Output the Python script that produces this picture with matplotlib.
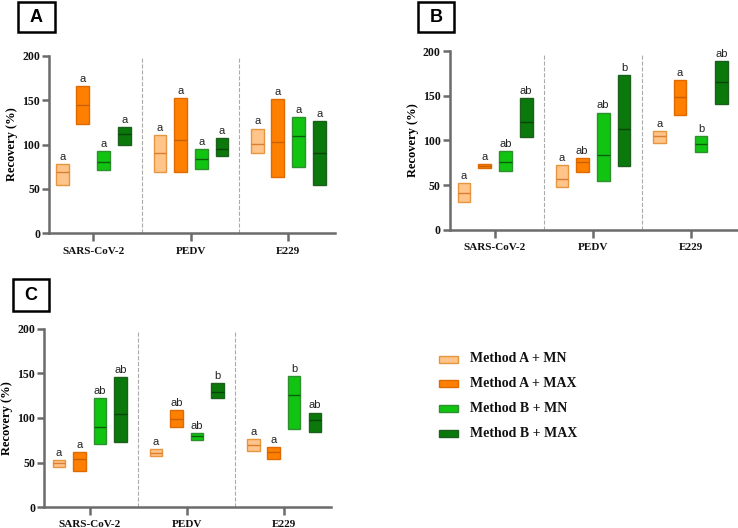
"""
Recovery (%) of SARS-CoV-2, PEDV and E229 for the four method combinations (panels A-C).
Floating bars show the min-max range, the inner line the median.
"""

import matplotlib
matplotlib.use("Agg")
import matplotlib.pyplot as plt
from matplotlib.patches import Rectangle
import numpy as np

viruses = ["SARS-CoV-2", "PEDV", "E229"]
methods = ["Method A + MN", "Method A + MAX", "Method B + MN", "Method B + MAX"]

# per panel: [virus][method] -> (low, median, high)
panel_a = [
    [(54, 69, 78), (123, 145, 166), (71, 80, 93), (100, 112, 120)],
    [(69, 90, 111), (69, 105, 152), (73, 84, 95), (87, 95, 107)],
    [(90, 101, 118), (63, 103, 151), (75, 110, 131), (55, 90, 126)],
]
panel_b = [
    [(31, 41, 52), (69, 71, 73), (66, 76, 88), (104, 121, 147)],
    [(48, 57, 72), (65, 76, 80), (54, 84, 131), (71, 113, 173)],
    [(97, 105, 110), (128, 149, 167), (87, 96, 105), (141, 165, 189)],
]
panel_c = [
    [(45, 50, 53), (41, 54, 62), (71, 90, 122), (73, 104, 146)],
    [(57, 61, 65), (90, 99, 109), (75, 80, 83), (122, 129, 139)],
    [(63, 70, 76), (54, 62, 67), (88, 126, 147), (84, 98, 106)],
]

letters_a = [["a", "a", "a", "a"], ["a", "a", "a", "a"], ["a", "a", "a", "a"]]
letters_b = [["a", "a", "ab", "ab"], ["a", "ab", "ab", "b"], ["a", "a", "b", "ab"]]
letters_c = [["a", "a", "ab", "ab"], ["a", "ab", "ab", "b"], ["a", "a", "b", "ab"]]

FILL = ["#ffc48a", "#ff8000", "#11c411", "#0a780a"]
EDGE = ["#e8953f", "#e06a00", "#2f8f2f", "#1d5f1d"]
MED = ["#d98030", "#c86000", "#0b5f0b", "#064506"]
OFFS = [-0.315, -0.107, 0.107, 0.32]
BW = 0.13
AXCOL = "#6b6b6b"

SERIF = "Liberation Serif"
SANS = "Liberation Sans"

fig = plt.figure(figsize=(7.38, 5.28), dpi=100)


def panel(rect, data, letters, xlim, tag, tagbox):
    ax = fig.add_axes(rect)
    x = np.arange(len(viruses))
    for m in range(len(methods)):
        lo = np.array([data[v][m][0] for v in range(len(viruses))])
        md = np.array([data[v][m][1] for v in range(len(viruses))])
        hi = np.array([data[v][m][2] for v in range(len(viruses))])
        xs = x + OFFS[m]
        ax.bar(xs, hi - lo, bottom=lo, width=BW, color=FILL[m], edgecolor=EDGE[m],
               linewidth=1.0, zorder=3)
        ax.hlines(md, xs - BW / 2, xs + BW / 2, color=MED[m], linewidth=1.0, zorder=4)
        for v in range(len(viruses)):
            ax.text(xs[v], hi[v] + 2.5, letters[v][m], ha="center", va="bottom",
                    fontsize=8, family=SANS, color="#222222")
    for sep in (0.5, 1.5):
        ax.axvline(sep, ymin=0, ymax=0.985, color="#aaaaaa", linestyle="--",
                   linewidth=0.8, zorder=1)
    ax.set_xlim(*xlim)
    ax.set_ylim(0, 200)
    ax.set_yticks([0, 50, 100, 150, 200])
    ax.set_xticks(x)
    ax.set_xticklabels(viruses)
    for lab in ax.get_xticklabels() + ax.get_yticklabels():
        lab.set_family(SERIF)
        lab.set_fontweight("bold")
        lab.set_color("#111111")
    ax.tick_params(axis="y", labelsize=8.5, length=5, width=1.8, color=AXCOL, pad=1.5)
    ax.tick_params(axis="x", labelsize=8, length=6, width=1.8, color=AXCOL, pad=3.5)
    for s in ("top", "right"):
        ax.spines[s].set_visible(False)
    for s in ("left", "bottom"):
        ax.spines[s].set_color(AXCOL)
        ax.spines[s].set_linewidth(1.8)
    ax.set_ylabel("Recovery (%)", family=SERIF, fontweight="bold", fontsize=9, labelpad=3)

    # boxed panel tag
    x0, y0, w, h = tagbox
    fig.add_artist(Rectangle((x0 / 738, 1 - (y0 + h) / 528), w / 738, h / 528,
                             transform=fig.transFigure, fill=False,
                             edgecolor="black", linewidth=1.8))
    fig.text((x0 + w / 2) / 738, 1 - (y0 + h / 2) / 528, tag, ha="center", va="center",
             fontsize=13, fontweight="bold", family=SANS)
    return ax


panel([0.0668, 0.558, 0.387, 0.3365], panel_a, letters_a, (-0.451, 2.479),
      "A", (18, 2, 37, 30))
panel([0.6093, 0.565, 0.390, 0.3384], panel_b, letters_b, (-0.462, 2.48),
      "B", (418, 2, 36, 30))
panel([0.060, 0.0392, 0.389, 0.3383], panel_c, letters_c, (-0.467, 2.49),
      "C", (13, 279, 36, 32))

# legend
for i, lab in enumerate(methods):
    yc = 359 + i * 24.7
    fig.add_artist(Rectangle((439 / 738, 1 - (yc + 3.5) / 528), 19 / 738, 7 / 528,
                             transform=fig.transFigure, facecolor=FILL[i],
                             edgecolor=EDGE[i], linewidth=1.0))
    fig.text(470 / 738, 1 - yc / 528, lab, ha="left", va="center", fontsize=10,
             fontweight="bold", family=SERIF, color="#111111")

plt.savefig("out.png", dpi=100)
print("Saved -> out.png")
